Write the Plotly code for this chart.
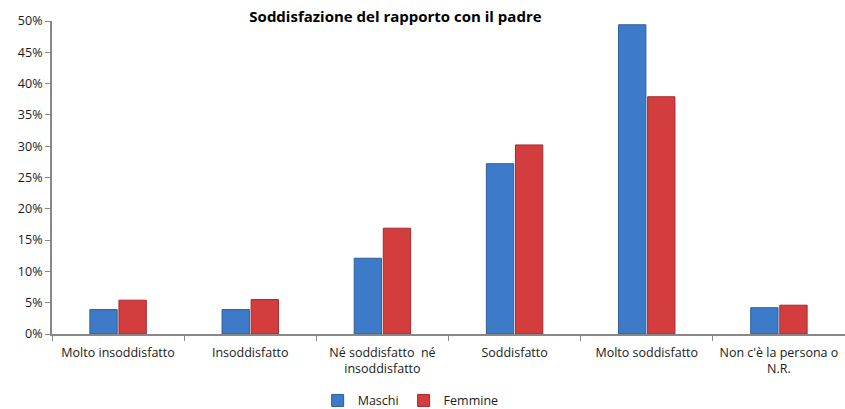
import plotly.graph_objects as go

categorie = [
    "Molto insoddisfatto",
    "Insoddisfatto",
    "Né soddisfatto  né<br>insoddisfatto",
    "Soddisfatto",
    "Molto soddisfatto",
    "Non c'è la persona o<br>N.R.",
]
maschi = [3.9, 3.9, 12.1, 27.2, 49.4, 4.2]
femmine = [5.4, 5.5, 16.9, 30.2, 37.9, 4.6]
tick_vals = [0, 5, 10, 15, 20, 25, 30, 35, 40, 45, 50]
tick_text = [f"{v}%" for v in tick_vals]

FONT = "Open Sans"

fig = go.Figure()
fig.add_trace(go.Bar(
    name="Maschi", x=categorie, y=maschi,
    marker=dict(color="#3D7BC8", line=dict(color="#2C5E9E", width=1)),
))
fig.add_trace(go.Bar(
    name="Femmine", x=categorie, y=femmine,
    marker=dict(color="#D33D3D", line=dict(color="#A42A2A", width=1)),
))

fig.update_layout(
    width=845, height=409,
    margin=dict(l=52, r=0, t=21, b=75, autoexpand=False),
    paper_bgcolor="white", plot_bgcolor="white",
    font=dict(family=FONT, size=12.5, color="#1a1a1a"),
    barmode="group", bargap=0.56, bargroupgap=0.06,
    title=dict(
        text="<b>Soddisfazione del rapporto con il padre</b>",
        x=0.468, xanchor="center", y=0.958, yanchor="middle",
        font=dict(family=FONT, size=15, color="#000000"),
    ),
    showlegend=True,
    legend=dict(
        orientation="h", x=0.335, xanchor="left",
        yref="container", y=0.02, yanchor="middle",
        font=dict(family=FONT, size=12.5), itemwidth=30, tracegroupgap=0,
        bgcolor="rgba(0,0,0,0)",
    ),
)
fig.update_xaxes(
    showline=True, linecolor="#888888", linewidth=2,
    ticks="outside", tickson="boundaries", ticklen=5, tickcolor="#888888",
    ticklabelstandoff=6, tickangle=0,
    showgrid=False, tickfont=dict(family=FONT, size=12.5),
)
fig.update_yaxes(
    range=[0, 50], tickvals=tick_vals, ticktext=tick_text,
    showline=True, linecolor="#888888", linewidth=2,
    ticks="outside", ticklen=5, tickcolor="#888888",
    showgrid=False, zeroline=False, tickfont=dict(family=FONT, size=12.5),
)

fig.write_html("out.html")
